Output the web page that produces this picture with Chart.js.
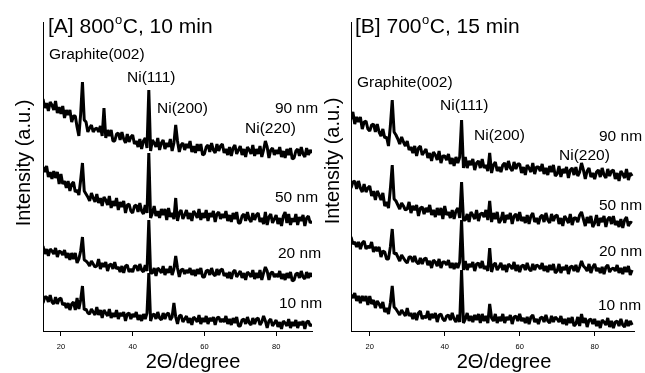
<!DOCTYPE html>
<html>
<head>
<meta charset="utf-8">
<script src="https://cdn.jsdelivr.net/npm/chart.js@4.4.1/dist/chart.umd.min.js"></script>
<style>
  html, body { margin: 0; padding: 0; background: #fff; }
  #wrap { position: relative; width: 645px; height: 373px; overflow: hidden; }
  canvas { position: absolute; top: 0; }
  #chartA { left: 0; }
  #chartB { left: 315px; }
</style>
</head>
<body>
<div id="wrap">
  <canvas id="chartA" width="326" height="373"></canvas>
  <canvas id="chartB" width="330" height="373"></canvas>
</div>
<script>
// 2-theta scan positions (degree), shared by all patterns
const theta = [
  15,15.5,16,16.5,17,17.5,18,18.5,19,19.5,20,20.5,21,21.5,22,22.5,23,23.5,24,24.5,
  25,25.5,26,26.5,27,27.5,28,28.5,29,29.5,30,30.5,31,31.5,32,32.5,33,33.5,34,34.5,
  35,35.5,36,36.5,37,37.5,38,38.5,39,39.5,40,40.5,41,41.5,42,42.5,43,43.5,44,44.5,
  45,45.5,46,46.5,47,47.5,48,48.5,49,49.5,50,50.5,51,51.5,52,52.5,53,53.5,54,54.5,
  55,55.5,56,56.5,57,57.5,58,58.5,59,59.5,60,60.5,61,61.5,62,62.5,63,63.5,64,64.5,
  65,65.5,66,66.5,67,67.5,68,68.5,69,69.5,70,70.5,71,71.5,72,72.5,73,73.5,74,74.5,
  75,75.5,76,76.5,77,77.5,78,78.5,79,79.5,80,80.5,81,81.5,82,82.5,83,83.5,84,84.5,
  85,85.5,86,86.5,87,87.5,88,88.5,89,89.5,90
];
const xTicks = [20, 40, 60, 80];

// [A] 800 C, 10 min  (stacked intensities, a.u.)
const a90 = [
  232,223,228,220,229,226,221,230,218,224, 217,225,213,221,216,221,209,215,215,204,
  195,217,249,211,209,199,203,206,199,202, 203,199,205,195,223,193,201,195,201,190,
  190,197,198,191,199,192,188,197,189,194, 196,187,190,184,192,182,190,193,183,241,
  180,191,188,184,193,181,188,191,182,188, 184,192,180,188,206,190,179,186,188,181,
  187,183,190,179,185,178,187,180,187,176, 177,184,186,179,188,181,178,187,180,185,
  187,178,182,176,184,175,183,186,177,181, 185,176,182,174,184,181,177,186,175,182,
  177,185,174,181,190,184,173,181,183,176, 181,177,184,174,180,173,182,176,183,172,
  173,180,182,175,184,177,174,183,176,181, 178
];
const a50 = [
  164,159,165,154,159,152,160,153,159,147, 157,147,150,143,150,140,147,149,139,141,
  136,151,168,140,137,134,130,138,133,129, 137,128,133,125,134,131,126,135,123,130,
  125,133,121,129,124,130,118,126,127,120, 118,125,126,119,128,120,117,126,118,178,
  113,118,125,115,120,113,122,116,122,111, 123,114,118,112,133,110,118,121,112,116,
  121,112,118,110,120,117,113,122,111,118, 113,121,110,118,114,120,109,117,119,112,
  117,113,120,110,116,109,118,112,119,108, 108,115,117,110,119,112,109,118,111,116,
  118,109,113,107,119,106,114,117,108,112, 116,107,113,105,115,119,108,117,106,113,
  109,117,106,114,110,116,105,113,115,108, 110
];
const a20 = [
  85,77,82,75,82,80,77,83,74,80, 79,76,81,73,78,71,78,72,78,68,
  72,80,94,71,70,68,65,70,67,64, 65,72,62,68,64,69,60,66,67,62,
  69,62,64,59,65,58,65,66,59,62, 59,65,65,60,67,61,59,66,60,111,
  58,58,63,55,63,61,58,65,56,62, 58,65,56,62,75,63,54,61,62,57,
  61,58,63,56,61,55,62,57,63,54, 54,60,61,56,63,57,55,62,56,61,
  62,55,58,53,59,52,59,61,54,57, 60,53,58,51,59,57,54,61,52,58,
  53,61,51,58,64,60,51,58,59,54, 57,54,60,52,57,51,58,53,59,50,
  51,57,58,53,60,54,52,59,53,58, 54
];
const a10 = [
  28,34,34,29,36,29,27,34,27,32, 33,26,28,23,28,21,27,29,21,33,
  22,31,45,21,22,18,17,22,19,16, 24,16,21,13,21,18,15,22,13,18,
  14,21,12,18,15,19,10,17,18,12, 17,14,19,11,16,10,17,12,18,58,
  10,16,17,12,19,13,11,18,12,17, 18,11,14,28,14,7,15,16,9,12,
  15,8,13,6,14,12,9,16,7,13, 9,15,7,13,10,14,6,13,14,9,
  12,9,15,7,12,6,13,8,14,5, 5,11,12,7,14,8,6,13,7,12,
  13,6,9,15,10,3,10,12,5,8, 11,4,9,2,10,8,5,12,3,9,
  5,11,3,9,6,10,2,9,10,5, 7
];

// [B] 700 C, 15 min
const b90 = [
  212,219,207,214,209,214,202,209,210,202, 200,206,207,199,207,199,195,202,193,194,
  185,205,231,199,196,192,187,194,189,185, 190,181,184,178,185,175,183,185,176,179,
  182,173,178,170,179,176,171,180,168,175, 175,171,177,167,173,165,174,168,174,211,
  163,174,163,170,166,172,161,168,170,163, 172,163,166,160,178,158,166,169,160,164,
  159,166,168,161,170,163,160,169,162,167, 167,158,164,156,166,163,159,168,157,164,
  164,160,167,157,163,156,165,159,166,155, 157,165,154,162,158,164,153,161,163,156,
  164,155,159,168,161,152,160,163,154,158, 152,159,161,154,163,156,153,162,155,160,
  161,152,158,150,160,157,153,162,151,158, 155
];
const b50 = [
  143,149,150,142,150,143,139,147,139,143, 145,135,140,131,140,136,131,138,125,129,
  123,142,166,132,130,126,122,128,125,121, 122,129,118,125,121,126,115,123,124,117,
  123,119,126,116,121,114,123,116,123,112, 125,116,119,113,121,112,120,123,113,149,
  111,111,117,109,119,116,112,121,110,117, 118,114,121,111,130,109,118,112,119,108,
  111,119,108,116,112,118,107,115,117,110, 119,110,114,108,116,107,115,118,109,113,
  107,114,116,109,118,111,108,117,110,115, 116,107,113,105,115,112,108,117,106,113,
  113,109,116,119,112,105,114,108,115,104, 108,116,105,113,109,115,104,112,114,107,
  115,106,110,104,112,103,111,114,105,109, 108
];
const b20 = [
  94,87,89,84,89,82,88,90,82,85, 83,89,79,84,80,84,74,80,79,72,
  72,84,102,77,78,74,70,76,73,70, 68,74,74,69,75,69,67,73,67,72,
  73,66,70,63,71,69,65,72,63,69, 69,66,71,63,68,62,68,63,69,111,
  61,70,61,67,64,69,60,67,68,63, 70,62,65,60,83,59,66,68,61,64,
  68,61,66,59,67,65,62,69,60,66, 59,65,66,61,68,62,60,67,61,66,
  65,62,68,60,65,59,66,61,67,58, 60,67,58,64,61,66,57,64,65,60,
  66,59,64,70,65,63,60,67,58,64, 67,60,63,58,64,57,64,66,59,62,
  63,60,66,58,63,57,64,59,65,56, 61
];
const b10 = [
  36,33,38,30,35,28,35,30,35,26, 35,27,31,23,30,27,23,29,19,23,
  17,28,45,24,22,19,16,21,18,15, 23,15,18,12,18,11,18,20,12,15,
  13,20,11,17,13,18,9,16,17,12, 10,15,16,11,18,12,9,16,9,61,
  8,12,18,10,15,9,16,11,17,8, 17,10,15,8,27,13,10,17,8,14,
  10,17,8,14,11,16,7,14,15,10, 17,10,13,8,14,7,14,16,9,12,
  7,13,14,9,16,10,8,15,9,14, 12,9,15,7,12,6,13,8,14,5,
  7,14,5,17,8,13,4,11,12,7, 12,5,10,3,11,9,6,13,4,10,
  3,9,10,5,12,6,4,11,5,10, 6
];

const peakLabels = ['Graphite(002)', 'Ni(111)', 'Ni(200)', 'Ni(220)'];
const sizeLabels = ['90 nm', '50 nm', '20 nm', '10 nm'];

const FONT = '"Liberation Sans", Arial, sans-serif';

function pts(ys) {
  return ys.map((y, i) => ({ x: theta[i], y: y }));
}

// text placed in canvas pixels: [left, baseline]
function textPlugin(cfg) {
  return {
    id: 'labels',
    afterDraw(chart) {
      const c = chart.ctx;
      c.save();
      c.fillStyle = '#000';
      c.textBaseline = 'alphabetic';
      c.textAlign = 'left';

      // panel title with superscript o
      c.font = '21px ' + FONT;
      let x = cfg.title.x;
      c.fillText(cfg.title.pre, x, cfg.title.y);
      x += c.measureText(cfg.title.pre).width;
      c.font = '13px ' + FONT;
      c.fillText('o', x + 0.5, cfg.title.y - 9);
      x += c.measureText('o').width + 1;
      c.font = '21px ' + FONT;
      c.fillText(cfg.title.post, x, cfg.title.y);

      c.font = '15.5px ' + FONT;
      cfg.peaks.forEach((p, i) => c.fillText(peakLabels[i], p[0], p[1]));
      cfg.sizes.forEach((p, i) => c.fillText(sizeLabels[i], p[0], p[1]));

      // axis titles
      c.font = '20px ' + FONT;
      c.textAlign = 'center';
      c.fillText('2\u0398/degree', cfg.xTitle[0], cfg.xTitle[1]);
      c.translate(cfg.yTitle[0], cfg.yTitle[1]);
      c.rotate(-Math.PI / 2);
      c.fillText('Intensity (a.u.)', 0, 0);
      c.restore();
    }
  };
}

function makeChart(id, series, xMax, pad, cfg) {
  const ds = series.map(s => ({
    data: pts(s),
    borderColor: '#000',
    borderWidth: 3,
    borderJoinStyle: 'bevel',
    pointRadius: 0,
    fill: false,
    tension: 0
  }));
  return new Chart(document.getElementById(id), {
    type: 'line',
    data: { datasets: ds },
    options: {
      responsive: false,
      animation: false,
      events: [],
      layout: { padding: pad },
      plugins: { legend: { display: false }, tooltip: { enabled: false } },
      scales: {
        x: {
          type: 'linear',
          min: 15,
          max: xMax,
          afterBuildTicks: s => { s.ticks = xTicks.map(v => ({ value: v })); },
          afterFit: s => { s.height = 42; },
          ticks: { color: '#000', font: { size: 7.5, family: FONT }, padding: 6, maxRotation: 0 },
          grid: { display: true, drawOnChartArea: false, drawTicks: true, tickLength: 5, color: '#000' },
          border: { display: true, color: '#000', width: 1 }
        },
        y: {
          min: 0,
          max: 309,
          afterFit: s => { s.width = 0; },
          ticks: { display: false },
          grid: { display: false },
          border: { display: true, color: '#000', width: 1 }
        }
      }
    },
    plugins: [textPlugin(cfg)]
  });
}

makeChart('chartA', [a90, a50, a20, a10], 90,
  { left: 43, right: 14, top: 22, bottom: 0 },
  {
    title: { pre: '[A] 800', post: 'C, 10 min', x: 48, y: 33 },
    peaks: [[49, 59], [127, 82], [157, 113], [245, 133]],
    sizes: [[275, 113], [275, 202], [278, 258], [279, 308]],
    xTitle: [193, 368],
    yTitle: [30, 163]
  });

makeChart('chartB', [b90, b50, b20, b10], 90.5,
  { left: 36, right: 11, top: 22, bottom: 0 },
  {
    title: { pre: '[B] 700', post: 'C, 15 min', x: 40, y: 33 },
    peaks: [[42, 87], [125, 110], [159, 140], [244, 160]],
    sizes: [[284, 141], [284, 210], [284, 256], [283, 310]],
    xTitle: [189, 368],
    yTitle: [24, 161]
  });
</script>
</body>
</html>
